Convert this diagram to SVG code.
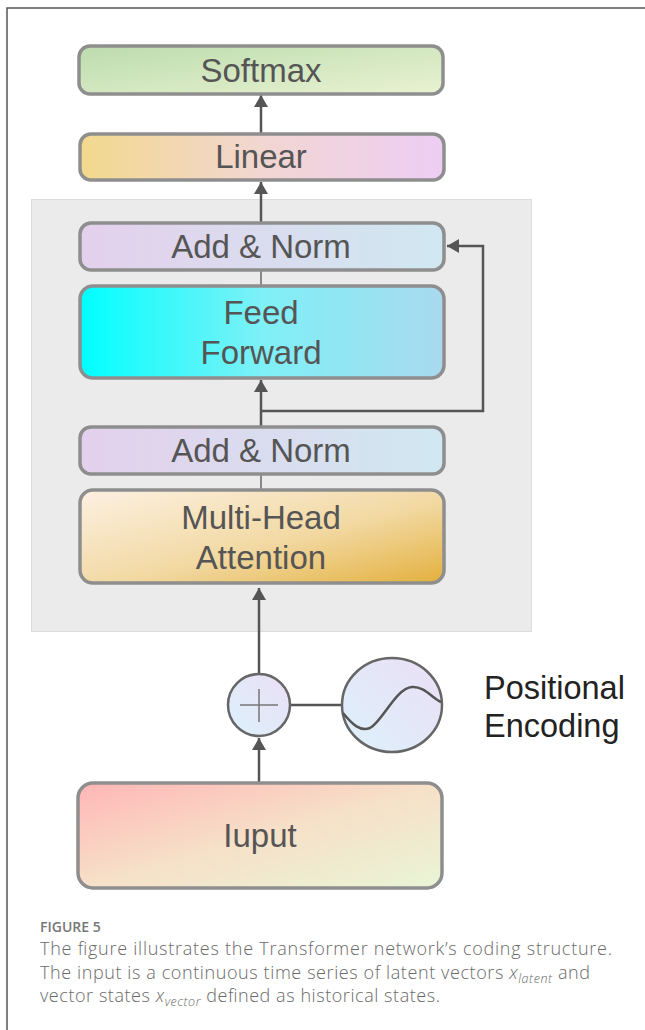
<svg xmlns="http://www.w3.org/2000/svg" width="645" height="1030" viewBox="0 0 645 1030">
<style>
.box{stroke:#8e8e8e;stroke-width:3.5}
.lbl{font-family:"Liberation Sans",Arial,sans-serif;font-size:33px;fill:#555;text-anchor:middle}
.con{stroke:#555;stroke-width:2.5;fill:none}
.cap{font-family:"Open Sans","Liberation Sans",sans-serif;fill:#6a6a6a;font-weight:300}
</style>
<defs>
<marker id="ah" viewBox="0 0 12 14" refX="12" refY="7" markerWidth="12" markerHeight="14" markerUnits="userSpaceOnUse" orient="auto">
<path d="M0,0 L12,7 L0,14 Z" fill="#555"/>
</marker>
<linearGradient id="gSoft" x1="0" y1="0" x2="1" y2="1"><stop offset="0" stop-color="#bcdcae"/><stop offset="1" stop-color="#e9f2d2"/></linearGradient>
<linearGradient id="gLin" x1="0" y1="0" x2="1" y2="0"><stop offset="0" stop-color="#f3d98d"/><stop offset="0.5" stop-color="#f1d6d2"/><stop offset="1" stop-color="#eecdf4"/></linearGradient>
<linearGradient id="gAdd" x1="0" y1="0" x2="1" y2="0"><stop offset="0" stop-color="#e4d0ec"/><stop offset="1" stop-color="#d0e8f1"/></linearGradient>
<linearGradient id="gFF" x1="0" y1="0" x2="1" y2="0"><stop offset="0" stop-color="#00ffff"/><stop offset="0.5" stop-color="#7ef0f6"/><stop offset="1" stop-color="#a9d9ef"/></linearGradient>
<linearGradient id="gMHA" x1="0" y1="0" x2="1" y2="1"><stop offset="0" stop-color="#fcf0e2"/><stop offset="0.55" stop-color="#f2d9a3"/><stop offset="1" stop-color="#e3b03e"/></linearGradient>
<linearGradient id="gIn" x1="0" y1="0" x2="1" y2="1"><stop offset="0" stop-color="#ffb6b6"/><stop offset="0.5" stop-color="#f6e0c8"/><stop offset="1" stop-color="#e9f5d6"/></linearGradient>
<linearGradient id="gCirc" x1="0" y1="1" x2="1" y2="0"><stop offset="0" stop-color="#dcf1fb"/><stop offset="1" stop-color="#ebdff5"/></linearGradient>
</defs>
<rect x="0" y="0" width="645" height="1030" fill="#fff"/>
<path d="M7,1030 V8 H645" fill="none" stroke="#555" stroke-width="1.5"/>
<rect id="panel" x="31.5" y="199.5" width="500" height="432" fill="#ebebeb" stroke="#dcdcdc" stroke-width="1"/>

<g id="connectors">
<line class="con" x1="261" y1="133" x2="261" y2="95" marker-end="url(#ah)"/>
<line class="con" x1="261" y1="222" x2="261" y2="182" marker-end="url(#ah)"/>
<line x1="261" y1="270" x2="261" y2="286" stroke="#888" stroke-width="2"/>
<line class="con" x1="261" y1="427" x2="261" y2="380" marker-end="url(#ah)"/>
<polyline class="con" points="261,411 483,411 483,246 447,246" marker-end="url(#ah)"/>
<line x1="261" y1="474" x2="261" y2="490" stroke="#888" stroke-width="2"/>
<line class="con" x1="259" y1="673" x2="259" y2="588" marker-end="url(#ah)"/>
<line class="con" x1="290" y1="705" x2="342" y2="705"/>
<line class="con" x1="259" y1="783" x2="259" y2="738" marker-end="url(#ah)"/>
</g>

<g id="softmax"><rect class="box" x="79" y="46" width="364" height="48" rx="11" fill="url(#gSoft)"/><text class="lbl" x="261" y="82">Softmax</text></g>
<g id="linear"><rect class="box" x="80" y="134" width="364" height="46" rx="11" fill="url(#gLin)"/><text class="lbl" x="261" y="168">Linear</text></g>
<g id="addnorm2"><rect class="box" x="80" y="223" width="364" height="47" rx="11" fill="url(#gAdd)"/><text class="lbl" x="261" y="258">Add &amp; Norm</text></g>
<g id="feedforward"><rect class="box" x="80" y="286" width="364" height="92" rx="13" fill="url(#gFF)"/><text class="lbl" x="261" y="324">Feed</text><text class="lbl" x="261" y="364">Forward</text></g>
<g id="addnorm1"><rect class="box" x="80" y="427" width="364" height="47" rx="11" fill="url(#gAdd)"/><text class="lbl" x="261" y="462">Add &amp; Norm</text></g>
<g id="mha"><rect class="box" x="80" y="490" width="364" height="93" rx="13" fill="url(#gMHA)"/><text class="lbl" x="261" y="529">Multi-Head</text><text class="lbl" x="261" y="569">Attention</text></g>
<g id="plus"><circle cx="259" cy="705" r="31" fill="url(#gCirc)" stroke="#666" stroke-width="2.5"/><path d="M240,705 H278 M259,689 V722" stroke="#777" stroke-width="1.5"/></g>
<g id="posenc"><ellipse cx="392" cy="705" rx="50" ry="47" fill="url(#gCirc)" stroke="#666" stroke-width="2.5"/><path d="M343,713 C352,724 360,732 370,728 C382,722 396,688 412,687 C424,686 432,698 441,702" fill="none" stroke="#555" stroke-width="2.5"/></g>
<g id="poslabel"><text x="484" y="699" font-family="'Liberation Sans',Arial,sans-serif" font-size="32.5" fill="#222">Positional</text><text x="484" y="737" font-family="'Liberation Sans',Arial,sans-serif" font-size="32.5" fill="#222">Encoding</text></g>
<g id="input"><rect class="box" x="78" y="783" width="364" height="105" rx="15" fill="url(#gIn)"/><text class="lbl" x="260" y="847">Iuput</text></g>

<g id="caption">
<text x="40" y="932" font-family="'Open Sans','Liberation Sans',sans-serif" font-size="14" font-weight="600" fill="#777">FIGURE 5</text>
<text x="40" y="955" class="cap" font-size="18" textLength="572" lengthAdjust="spacing">The figure illustrates the Transformer network’s coding structure.</text>
<text x="40" y="979" class="cap" font-size="18" textLength="550" lengthAdjust="spacing">The input is a continuous time series of latent vectors <tspan font-style="italic">x</tspan><tspan font-style="italic" font-size="12.5" dy="4">latent</tspan><tspan dy="-4"> and</tspan></text>
<text x="40" y="1002" class="cap" font-size="18" textLength="400" lengthAdjust="spacing">vector states <tspan font-style="italic">x</tspan><tspan font-style="italic" font-size="12.5" dy="4">vector</tspan><tspan dy="-4"> defined as historical states.</tspan></text>
</g>
</svg>
